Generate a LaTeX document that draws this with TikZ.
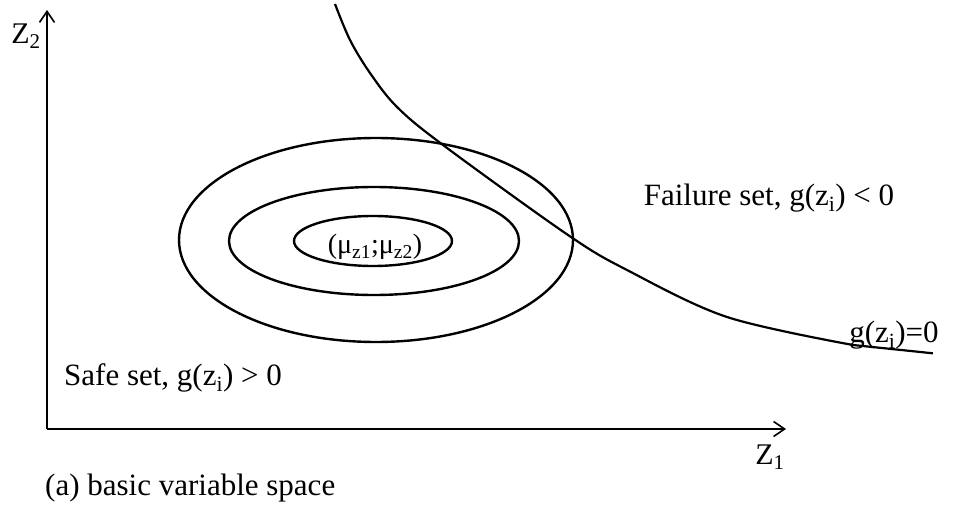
\documentclass[tikz,border=0pt]{standalone}
\usepackage{fontspec}
\setmainfont{Liberation Serif}
\usetikzlibrary{arrows.meta,positioning}
\tikzset{
  axisline/.style={-{Straight Barb[length=11pt,width=15pt,line width=1.6pt]}, line width=1.6pt},
  contour/.style={line width=2.4pt},
  limitstate/.style={line width=2.2pt},
  lbl/.style={font=\fontsize{31}{36}\selectfont, inner sep=0pt},
  meanlbl/.style={font=\fontsize{28}{33}\selectfont, inner sep=0pt},
  axislbl/.style={font=\fontsize{30}{35}\selectfont, inner sep=0pt}
}
\begin{document}
\begin{tikzpicture}[x=1pt,y=-1pt]
  \useasboundingbox (0,0) rectangle (954,508);
  % axes
  \coordinate (origin) at (47,429);
  \coordinate (zoneend) at (786,429);
  \coordinate (ztwoend) at (47,10);
  \draw[axisline] (origin) -- (zoneend);
  \draw[axisline] (origin) -- (ztwoend);
  \node[axislbl] (ztwo) at (26,36) {Z\textsubscript{2}};
  \node[axislbl] (zone) at (770,457) {Z\textsubscript{1}};
  % probability contours
  \draw[contour] (376,240) ellipse [x radius=197, y radius=102];
  \draw[contour] (374,241) ellipse [x radius=145, y radius=54];
  \draw[contour] (373,241) ellipse [x radius=79, y radius=25];
  \node[meanlbl] (mean) at (375,247) {(μ\textsubscript{z1};μ\textsubscript{z2})};
  % limit state
  \node[lbl] (limit) at (894,335) {g(z\textsubscript{i})=0};
  \draw[limitstate] plot[smooth, tension=0.55] coordinates {(335,4) (350,40) (370,73) (397,107) (443,145) (568,235) (627,270) (727,317) (853,345)}
    -- ([xshift=-6pt,yshift=-4pt]limit.south east);
  \node[lbl] (failure) at (769,198) {Failure set, g(z\textsubscript{i}) < 0};
  \node[lbl, anchor=west] (safe) at (64,378) {Safe set, g(z\textsubscript{i}) > 0};
  \node[lbl, anchor=west] (caption) at (45,488) {(a) basic variable space};
\end{tikzpicture}
\end{document}
